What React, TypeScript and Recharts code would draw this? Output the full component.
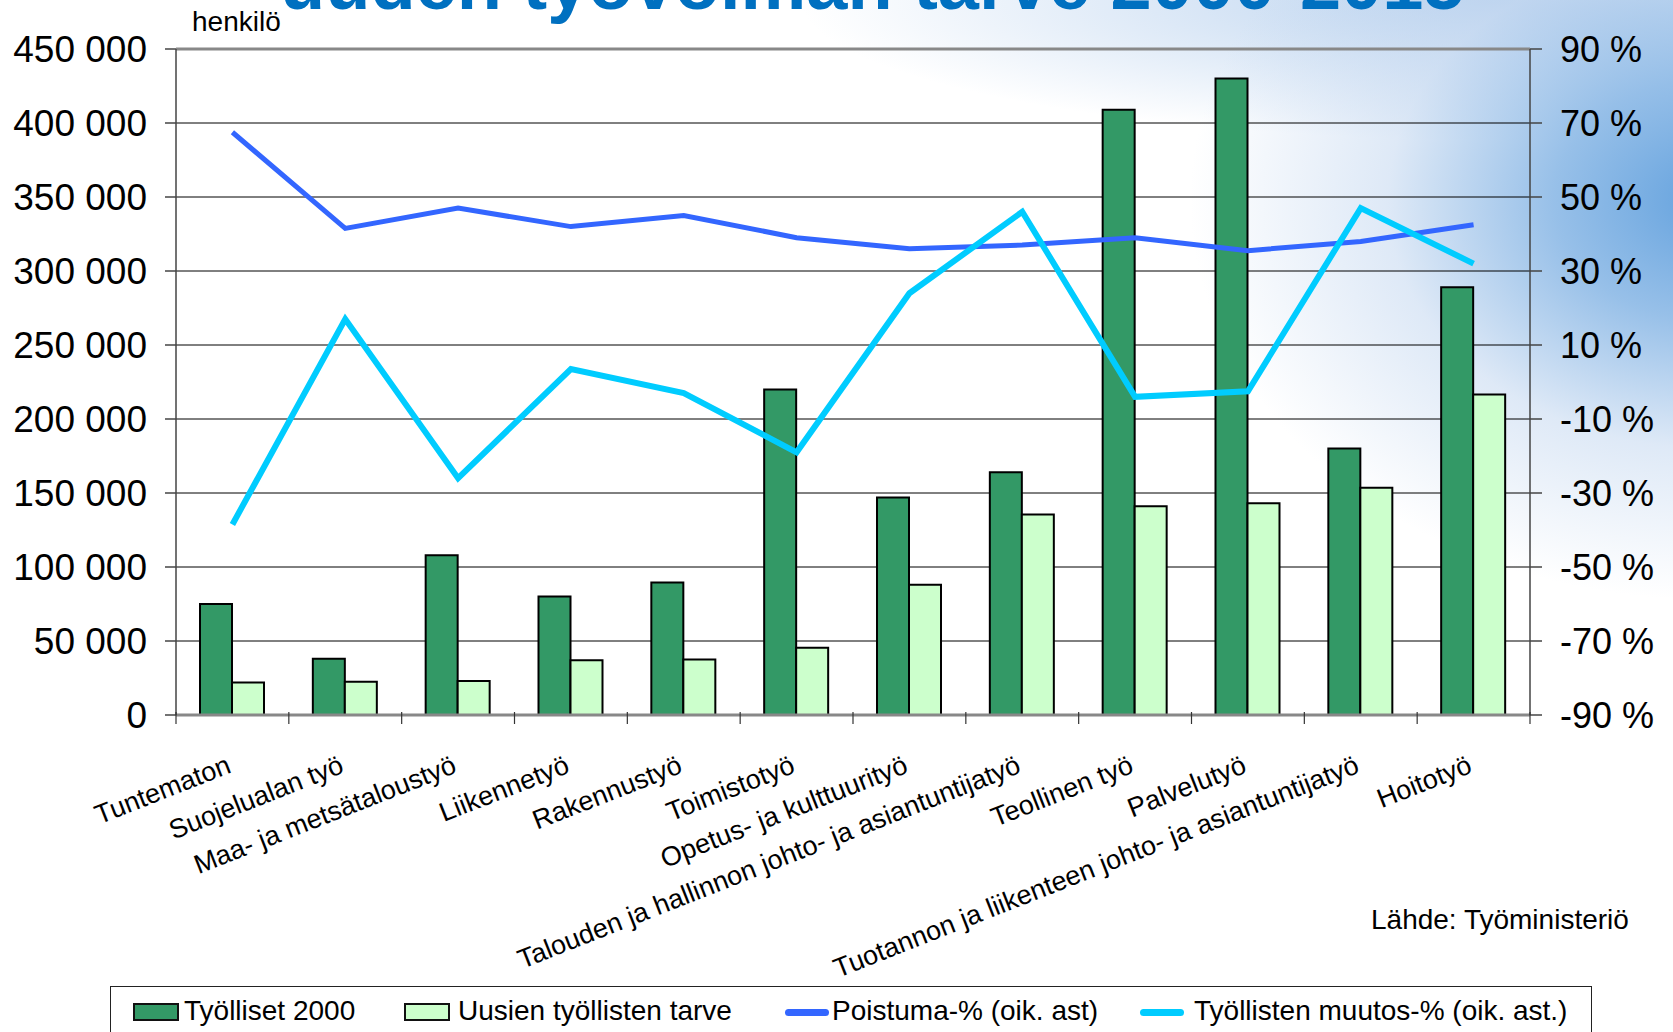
import { Bar, CartesianGrid, ComposedChart, Line, ReferenceLine, XAxis, YAxis } from "recharts"

const FONT = '"Liberation Sans", Arial, sans-serif'

const CATEGORIES = [
  "Tuntematon",
  "Suojelualan työ",
  "Maa- ja metsätaloustyö",
  "Liikennetyö",
  "Rakennustyö",
  "Toimistotyö",
  "Opetus- ja kulttuurityö",
  "Talouden ja hallinnon johto- ja asiantuntijatyö",
  "Teollinen työ",
  "Palvelutyö",
  "Tuotannon ja liikenteen johto- ja asiantuntijatyö",
  "Hoitotyö",
]

const TYOLLISET_2000 = [75000, 38000, 108000, 80000, 89500, 220000, 147000, 164000, 409000, 430000, 180000, 289000]
const UUSIEN_TARVE = [22000, 22500, 23000, 37000, 37500, 45500, 88000, 135500, 141000, 143000, 153500, 216500]
const POISTUMA = [67.5, 41.5, 47, 42, 45, 39, 36, 37, 39, 35.5, 38, 42.5]
const MUUTOS = [-38.5, 17, -26, 3.5, -3, -19, 24, 46, -4, -2.5, 47, 32]

const COUNT_TICKS = [0, 50000, 100000, 150000, 200000, 250000, 300000, 350000, 400000, 450000]
const PCT_TICKS = [-90, -70, -50, -30, -10, 10, 30, 50, 70, 90]

const SERIES = {
  tyolliset: { name: "Työlliset 2000", color: "#339966" },
  tarve: { name: "Uusien työllisten tarve", color: "#CCFFCC" },
  poistuma: { name: "Poistuma-% (oik. ast)", color: "#3366FF" },
  muutos: { name: "Työllisten muutos-% (oik. ast.)", color: "#00CCFF" },
}

const data = CATEGORIES.map((name, i) => ({
  name,
  tyolliset: TYOLLISET_2000[i],
  tarve: UUSIEN_TARVE[i],
  poistuma: POISTUMA[i],
  muutos: MUUTOS[i],
}))

const fmtCount = (v: number) => String(v).replace(/\B(?=(\d{3})+(?!\d))/g, " ")

function CategoryTick(props: any) {
  const { x, y, payload, index, width } = props
  const band = (width ?? 1354) / CATEGORIES.length
  const left = x - band / 2
  const ly = y + 57
  return (
    <g>
      <line x1={left} x2={left} y1={y - 3} y2={y + 9} stroke="#333" strokeWidth={1.2} />
      {index === CATEGORIES.length - 1 && (
        <line x1={x + band / 2} x2={x + band / 2} y1={y - 3} y2={y + 9} stroke="#333" strokeWidth={1.2} />
      )}
      <text
        x={x}
        y={ly}
        textAnchor="end"
        transform={`rotate(-21.5, ${x}, ${ly})`}
        fontSize={27}
        fontFamily={FONT}
        fill="#000"
      >
        {payload.value}
      </text>
    </g>
  )
}

function LegendBox() {
  const sw = { position: "absolute" as const, top: 16, width: 46, height: 18, border: "2px solid #111", boxSizing: "border-box" as const }
  const ln = (color: string) => ({ position: "absolute" as const, top: 22, width: 44, height: 7, borderRadius: 4, background: color })
  const txt = { position: "absolute" as const, top: 8, fontSize: 28, fontFamily: FONT, color: "#000", whiteSpace: "nowrap" as const }
  return (
    <div
      style={{
        position: "absolute",
        left: 110,
        top: 986,
        width: 1482,
        height: 70,
        border: "1.5px solid #222",
        background: "#fff",
        boxSizing: "border-box",
      }}
    >
      <div style={{ ...sw, left: 22, background: SERIES.tyolliset.color }} />
      <div style={{ ...txt, left: 73 }}>{SERIES.tyolliset.name}</div>
      <div style={{ ...sw, left: 293, background: SERIES.tarve.color }} />
      <div style={{ ...txt, left: 347 }}>{SERIES.tarve.name}</div>
      <div style={{ ...ln(SERIES.poistuma.color), left: 674 }} />
      <div style={{ ...txt, left: 721 }}>{SERIES.poistuma.name}</div>
      <div style={{ ...ln(SERIES.muutos.color), left: 1029 }} />
      <div style={{ ...txt, left: 1083 }}>{SERIES.muutos.name}</div>
    </div>
  )
}

export default function App() {
  return (
    <div
      style={{
        position: "fixed",
        left: 0,
        top: 0,
        width: 1673,
        height: 1032,
        overflow: "hidden",
        background:
          "radial-gradient(ellipse 520px 400px at 1710px 200px, rgba(100,162,222,1) 0%, rgba(140,185,230,0.9) 30%, rgba(195,215,240,0.55) 62%, rgba(255,255,255,0) 100%), radial-gradient(ellipse 700px 140px at 1500px 0px, rgba(170,200,235,0.8) 0%, rgba(255,255,255,0) 100%), #fff",
        fontFamily: FONT,
      }}
    >
      <div
        style={{
          position: "absolute",
          left: 280,
          top: -53,
          fontSize: 74,
          fontWeight: "bold",
          color: "#0070C0",
          whiteSpace: "nowrap",
          lineHeight: "74px",
        }}
      >
        uuden työvoiman tarve 2000-2015
      </div>
      <div style={{ position: "absolute", left: 192, top: 6, fontSize: 28, color: "#000" }}>henkilö</div>
      <div style={{ position: "absolute", left: 1371, top: 904, fontSize: 28, color: "#000" }}>Lähde: Työministeriö</div>
      <div style={{ position: "absolute", left: 0, top: 0 }}>
        <ComposedChart
          width={1673}
          height={1032}
          data={data}
          margin={{ top: 49, right: 0, left: 0, bottom: 0 }}
          barGap={0}
        >
          <CartesianGrid vertical={false} stroke="#000" strokeWidth={1} yAxisId="count" />
          <XAxis
            dataKey="name"
            height={317}
            interval={0}
            tickLine={false}
            tickSize={0}
            tickMargin={0}
            axisLine={{ stroke: "#888", strokeWidth: 3 }}
            tick={<CategoryTick />}
          />
          <YAxis
            yAxisId="count"
            width={176}
            domain={[0, 450000]}
            ticks={COUNT_TICKS}
            interval={0}
            tickFormatter={fmtCount}
            tickSize={11}
            tickMargin={18}
            axisLine={{ stroke: "#444", strokeWidth: 1.5 }}
            tickLine={{ stroke: "#444", strokeWidth: 1.5 }}
            tick={{ fontSize: 37, fill: "#000", fontFamily: FONT }}
          />
          <YAxis
            yAxisId="pct"
            orientation="right"
            width={143}
            domain={[-90, 90]}
            ticks={PCT_TICKS}
            interval={0}
            tickFormatter={(v) => `${v} %`}
            tickSize={12}
            tickMargin={18}
            axisLine={{ stroke: "#444", strokeWidth: 1.5 }}
            tickLine={{ stroke: "#444", strokeWidth: 1.5 }}
            tick={{ fontSize: 36, fill: "#000", fontFamily: FONT, textAnchor: "start" }}
          />
          <ReferenceLine yAxisId="count" y={450000} stroke="#888" strokeWidth={3} />
          <Bar
            yAxisId="count"
            dataKey="tyolliset"
            name={SERIES.tyolliset.name}
            fill={SERIES.tyolliset.color}
            stroke="#000"
            strokeWidth={2}
            barSize={32}
            isAnimationActive={false}
          />
          <Bar
            yAxisId="count"
            dataKey="tarve"
            name={SERIES.tarve.name}
            fill={SERIES.tarve.color}
            stroke="#000"
            strokeWidth={2}
            barSize={32}
            isAnimationActive={false}
          />
          <Line
            yAxisId="pct"
            dataKey="poistuma"
            name={SERIES.poistuma.name}
            stroke={SERIES.poistuma.color}
            strokeWidth={5}
            dot={false}
            type="linear"
            isAnimationActive={false}
          />
          <Line
            yAxisId="pct"
            dataKey="muutos"
            name={SERIES.muutos.name}
            stroke={SERIES.muutos.color}
            strokeWidth={6}
            dot={false}
            type="linear"
            isAnimationActive={false}
          />
        </ComposedChart>
      </div>
      <LegendBox />
    </div>
  )
}
